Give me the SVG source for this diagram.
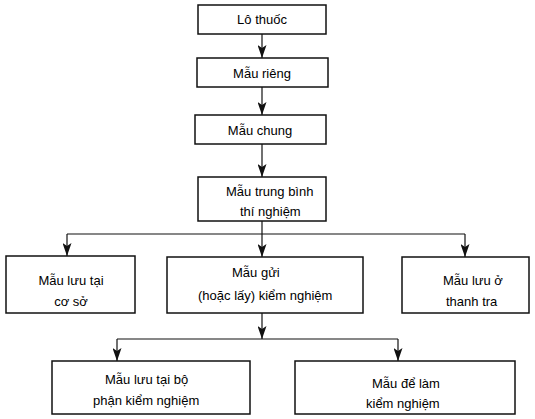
<svg xmlns="http://www.w3.org/2000/svg" width="535" height="419" viewBox="0 0 535 419">
<style>
.box{fill:#fff;stroke:#111;stroke-width:1.5}
.t{font-family:"Liberation Sans",Arial,sans-serif;font-size:13px;fill:#000}
.c{fill:none;stroke:#111;stroke-width:1.2}
</style>
<defs>
<marker id="ah" markerWidth="13" markerHeight="9" refX="13" refY="4.5" orient="auto" markerUnits="userSpaceOnUse" viewBox="0 0 13 9">
<path d="M0,0 L13,4.5 L0,9 L3,4.5 Z" fill="#111"/>
</marker>
</defs>
<rect width="535" height="419" fill="#fff"/>
<g id="connectors">
<path class="c" d="M262,34 V58" marker-end="url(#ah)"/>
<path class="c" d="M262,87 V115" marker-end="url(#ah)"/>
<path class="c" d="M262,144 V177" marker-end="url(#ah)"/>
<path class="c" d="M262,221 V257" marker-end="url(#ah)"/>
<path class="c" d="M67,234 H465"/>
<path class="c" d="M67,234 V256" marker-end="url(#ah)"/>
<path class="c" d="M465,234 V257" marker-end="url(#ah)"/>
<path class="c" d="M262,313 V339" marker-end="url(#ah)"/>
<path class="c" d="M117,339 H398"/>
<path class="c" d="M117,339 V361" marker-end="url(#ah)"/>
<path class="c" d="M398,339 V361" marker-end="url(#ah)"/>
</g>
<g id="n1"><rect class="box" x="198" y="5" width="128" height="29"/><text class="t" x="262" y="24" text-anchor="middle">Lô thuốc</text></g>
<g id="n2"><rect class="box" x="197" y="58" width="131" height="29"/><text class="t" x="262" y="78" text-anchor="middle">Mẫu riêng</text></g>
<g id="n3"><rect class="box" x="195" y="115" width="131" height="29"/><text class="t" x="260" y="135" text-anchor="middle">Mẫu chung</text></g>
<g id="n4"><rect class="box" x="198" y="177" width="128" height="44"/><text class="t" x="226" y="196">Mẫu trung bình</text><text class="t" x="240" y="216">thí nghiệm</text></g>
<g id="n5"><rect class="box" x="6" y="256" width="129" height="57"/><text class="t" x="71" y="285" text-anchor="middle">Mẫu lưu tại</text><text class="t" x="71" y="306" text-anchor="middle">cơ sở</text></g>
<g id="n6"><rect class="box" x="167" y="257" width="196" height="56"/><text class="t" x="232" y="277">Mẫu gửi</text><text class="t" x="198" y="300">(hoặc lấy) kiểm nghiệm</text></g>
<g id="n7"><rect class="box" x="402" y="257" width="127" height="56"/><text class="t" x="443" y="285">Mẫu lưu ở</text><text class="t" x="446" y="306">thanh tra</text></g>
<g id="n8"><rect class="box" x="52" y="361" width="198" height="53"/><text class="t" x="105" y="384">Mẫu lưu tại bộ</text><text class="t" x="93" y="405">phận kiểm nghiệm</text></g>
<g id="n9"><rect class="box" x="295" y="361" width="220" height="53"/><text class="t" x="372" y="388">Mẫu để làm</text><text class="t" x="366" y="408">kiểm nghiệm</text></g>
</svg>
